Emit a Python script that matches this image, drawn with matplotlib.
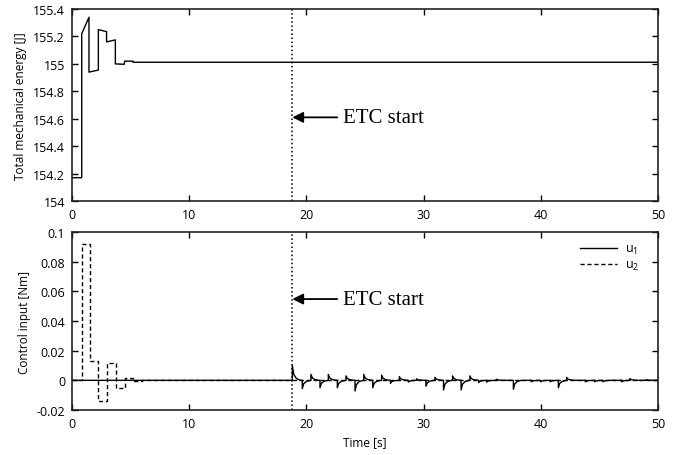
import numpy as np
import matplotlib.pyplot as plt

# --- data ---
etc_start = 18.8

energy_t = [0, 0.83, 0.83, 1.45, 1.45, 2.25, 2.25, 2.95, 2.95, 3.7, 3.7,
            4.45, 4.5, 5.2, 5.2, 50]
energy = [154.17, 154.17, 155.22, 155.34, 154.94, 154.955, 155.25, 155.235,
          155.16, 155.175, 155.0, 154.997, 155.02, 155.02, 155.012, 155.012]

u2_t = [0, 0.83, 1.54, 2.25, 2.96, 3.73, 4.52, 5.23, 6.0, 7.5, 50]
u2 = [0, 0.092, 0.013, -0.014, 0.012, -0.0054, 0.0017, -0.0004, 0.0003, 0, 0]

# event-triggered spikes on u1 (time, peak value)
spike_t = [18.8, 19.65, 20.39, 21.16, 21.87, 22.64, 23.38, 24.15, 24.89, 25.66,
           26.42, 27.17, 27.93, 28.7, 29.4, 30.2, 30.97, 31.7, 32.47, 33.2,
           33.95, 34.7, 35.38, 36.2, 37.66, 39.2, 39.99, 40.8, 41.5, 42.2,
           43.8, 44.6, 45.3, 46.9, 47.6, 49.0]
spike_a = [0.0100, -0.0056, 0.0040, -0.0050, 0.0040, -0.0050, 0.0030, -0.0072,
           0.0040, -0.0050, 0.0035, -0.0020, 0.0025, -0.0012, 0.0010, -0.0040,
           0.0020, -0.0065, 0.0030, -0.0065, 0.0030, -0.0015, -0.0012, 0.0008,
           -0.0060, -0.0010, -0.0010, -0.0010, -0.0050, 0.0020, -0.0010,
           -0.0010, -0.0010, -0.0010, 0.0012, 0.0005]

# shape of one spike: jump then decay
shape_dt = [0, 0, 0.12, 0.35, 0.7]
shape_f = [0, 1, 0.4, 0.12, 0]

u1_t = [0]
u1 = [0]
for t, a in zip(spike_t, spike_a):
    for dt, f in zip(shape_dt, shape_f):
        u1_t.append(t + dt)
        u1.append(a * f)
u1_t.append(50)
u1.append(0)

plt.rcParams['font.family'] = ['Open Sans', 'DejaVu Sans']
plt.rcParams['font.size'] = 9

fig = plt.figure(figsize=(6.83, 4.56), dpi=100)
ax1 = fig.add_axes([0.1054, 0.557, 0.858, 0.421])
ax2 = fig.add_axes([0.1054, 0.0987, 0.858, 0.3903])

for ax in (ax1, ax2):
    ax.tick_params(direction='in', top=True, right=True, length=4, width=1,
                   labelsize=9, pad=5)
    for s in ax.spines.values():
        s.set_linewidth(1.2)
        s.set_color('#222222')
    ax.set_xlim(0, 50)
    ax.set_xticks([0, 10, 20, 30, 40, 50])
    ax.axvline(etc_start, color='black', ls=':', lw=1.1)

# top: energy
ax1.plot(energy_t, energy, color='black', lw=1)
ax1.set_ylim(154, 155.4)
yt1 = [154, 154.2, 154.4, 154.6, 154.8, 155, 155.2, 155.4]
ax1.set_yticks(yt1)
ax1.set_yticklabels(['154', '154.2', '154.4', '154.6', '154.8', '155', '155.2', '155.4'])
ax1.set_ylabel('Total mechanical energy [J]', fontsize=8.5)
ax1.annotate('ETC start', xy=(etc_start, 154.61), xytext=(23.1, 154.61),
             va='center', ha='left', fontsize=15, family='Liberation Serif',
             arrowprops=dict(arrowstyle='-|>', color='black', lw=1.3,
                             mutation_scale=16, shrinkA=2, shrinkB=0))

# bottom: control input
ax2.plot(u1_t, u1, color='black', lw=1, label='$\\mathregular{u_1}$')
ax2.plot(u2_t, u2, color='black', lw=1, ls=(0, (3, 2)), drawstyle='steps-post',
         label='$\\mathregular{u_2}$')
ax2.set_ylim(-0.02, 0.1)
ax2.set_yticks([-0.02, 0, 0.02, 0.04, 0.06, 0.08, 0.1])
ax2.set_yticklabels(['-0.02', '0', '0.02', '0.04', '0.06', '0.08', '0.1'])
ax2.set_ylabel('Control input [Nm]', fontsize=8.5)
ax2.set_xlabel('Time [s]', fontsize=8.5)
ax2.annotate('ETC start', xy=(etc_start, 0.0548), xytext=(23.1, 0.0548),
             va='center', ha='left', fontsize=15, family='Liberation Serif',
             arrowprops=dict(arrowstyle='-|>', color='black', lw=1.3,
                             mutation_scale=16, shrinkA=2, shrinkB=0))
ax2.legend(loc='upper right', bbox_to_anchor=(0.985, 1.0), frameon=False,
           fontsize=9, handlelength=3.0, handletextpad=0.6,
           labelspacing=0.15, borderaxespad=0.4)

fig.savefig('out.png', dpi=100)
